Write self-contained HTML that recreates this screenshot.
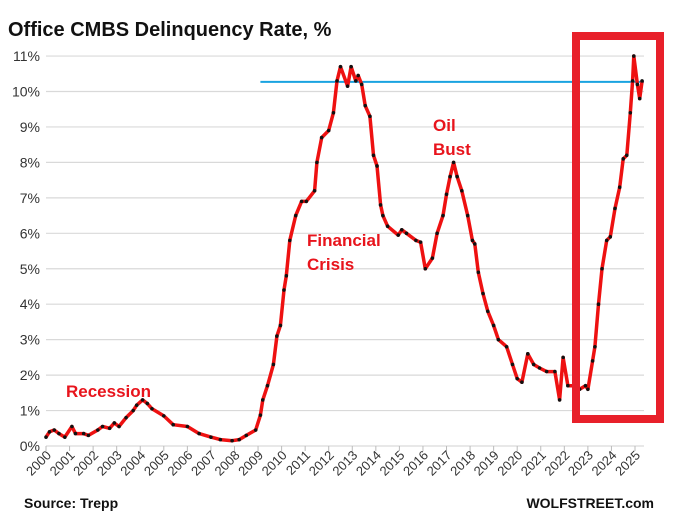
<!DOCTYPE html>
<html><head><meta charset="utf-8"><style>
body{margin:0;background:#fff;}
svg{display:block;font-family:"Liberation Sans",sans-serif;}
</style></head><body>
<svg id="c" width="680" height="517">
<text x="8" y="36" font-size="20" font-weight="bold" fill="#111">Office CMBS Delinquency Rate, %</text>
<g id="grid"></g><g id="xax"></g><g id="series"></g>
<text x="66" y="397" font-size="17" font-weight="bold" fill="#e8141c">Recession</text>
<text x="307" y="246" font-size="17" font-weight="bold" fill="#e8141c"><tspan x="307">Financial</tspan><tspan x="307" dy="24">Crisis</tspan></text>
<text x="433" y="131" font-size="17" font-weight="bold" fill="#e8141c"><tspan x="433">Oil</tspan><tspan x="433" dy="24">Bust</tspan></text>
<rect x="576" y="36" width="84" height="383" fill="none" stroke="#e8202a" stroke-width="8"/>
<text x="24" y="508" font-size="14" font-weight="bold" fill="#111">Source: Trepp</text>
<text x="654" y="508" font-size="14" font-weight="bold" fill="#111" text-anchor="end">WOLFSTREET.com</text>
</svg>
<script>
const years=[2000,2000.15,2000.35,2000.55,2000.8,2001.1,2001.25,2001.6,2001.8,2002.2,2002.4,2002.7,2002.9,2003.1,2003.4,2003.7,2003.85,2004.1,2004.3,2004.5,2005.0,2005.4,2006.0,2006.5,2007.0,2007.4,2007.9,2008.2,2008.5,2008.9,2009.1,2009.2,2009.4,2009.65,2009.8,2009.95,2010.1,2010.2,2010.35,2010.6,2010.85,2011.05,2011.4,2011.5,2011.7,2012.0,2012.2,2012.35,2012.5,2012.8,2012.95,2013.15,2013.25,2013.4,2013.55,2013.75,2013.9,2014.05,2014.2,2014.3,2014.5,2014.95,2015.1,2015.3,2015.7,2015.9,2016.1,2016.4,2016.6,2016.85,2017.0,2017.15,2017.3,2017.45,2017.65,2017.9,2018.1,2018.2,2018.35,2018.55,2018.75,2019.0,2019.2,2019.55,2019.8,2020.0,2020.2,2020.45,2020.7,2020.95,2021.25,2021.6,2021.8,2021.95,2022.15,2022.4,2022.65,2022.9,2023.0,2023.2,2023.3,2023.45,2023.6,2023.8,2023.95,2024.15,2024.35,2024.5,2024.65,2024.8,2024.9,2024.95,2025.1,2025.2,2025.3];
const rates=[0.25,0.4,0.45,0.35,0.25,0.55,0.35,0.35,0.3,0.45,0.55,0.5,0.65,0.55,0.8,1.0,1.15,1.3,1.2,1.05,0.85,0.6,0.55,0.35,0.25,0.18,0.15,0.18,0.3,0.45,0.87,1.3,1.7,2.3,3.1,3.4,4.4,4.8,5.8,6.5,6.9,6.9,7.2,8.0,8.7,8.9,9.4,10.3,10.7,10.15,10.7,10.3,10.45,10.2,9.6,9.3,8.2,7.9,6.8,6.5,6.2,5.95,6.1,6.0,5.8,5.75,5.0,5.3,6.0,6.5,7.1,7.6,8.0,7.6,7.2,6.5,5.8,5.7,4.9,4.3,3.8,3.4,3.0,2.8,2.3,1.9,1.8,2.6,2.3,2.2,2.1,2.1,1.3,2.5,1.7,1.7,1.6,1.7,1.6,2.4,2.8,4.0,5.0,5.8,5.9,6.7,7.3,8.1,8.2,9.4,10.3,11.0,10.2,9.8,10.3];
const yTicks=[0,1,2,3,4,5,6,7,8,9,10,11];
const xTicks=[2000,2001,2002,2003,2004,2005,2006,2007,2008,2009,2010,2011,2012,2013,2014,2015,2016,2017,2018,2019,2020,2021,2022,2023,2024,2025];
const refLevel=10.27;
const ns="http://www.w3.org/2000/svg";
const X=v=>46+(v-2000)*23.56;
const Y=v=>446-v*35.45;
function mk(tag,attrs,parent){const e=document.createElementNS(ns,tag);for(const k in attrs)e.setAttribute(k,attrs[k]);parent.appendChild(e);return e;}
const grid=document.getElementById('grid'),xax=document.getElementById('xax'),ser=document.getElementById('series');
yTicks.forEach(t=>{
 if(t>0){const l=mk('line',{x1:46,x2:644,y1:Y(t),y2:Y(t),stroke:'#d9d9d9','stroke-width':1.2},grid);
 
 }
 const tx=mk('text',{x:40,y:Y(t)+5,'font-size':14,'text-anchor':'end',fill:'#333'},grid);tx.textContent=t+'%';
 
 
});
const ax=mk('line',{x1:46,x2:644,y1:446,y2:446,stroke:'#d9d9d9','stroke-width':1.2},xax);


xTicks.forEach(t=>{
 const tk=mk('line',{x1:X(t),x2:X(t),y1:446,y2:451,stroke:'#bbb'},xax);
 
 
 const tx=mk('text',{x:X(t)+6,y:456,'font-size':13,'text-anchor':'end',fill:'#333',transform:'rotate(-45 '+(X(t)+6)+' 456)'},xax);
 tx.textContent=t;
 
 
});
const pts=years.map((y,i)=>X(y).toFixed(1)+','+Y(rates[i]).toFixed(1)).join(' ');
const ref=mk('line',{x1:X(2009.1),x2:644,y1:Y(refLevel),y2:Y(refLevel),stroke:'#1aa3e0','stroke-width':2},ser);


const pl=mk('polyline',{points:pts,fill:'none',stroke:'#ee1111','stroke-width':3.5,'stroke-linejoin':'round'},ser);


years.forEach((y,i)=>{
 const c=mk('circle',{cx:X(y),cy:Y(rates[i]),r:1.8,fill:'#111'},ser);
 
 
});
</script>
</body></html>
